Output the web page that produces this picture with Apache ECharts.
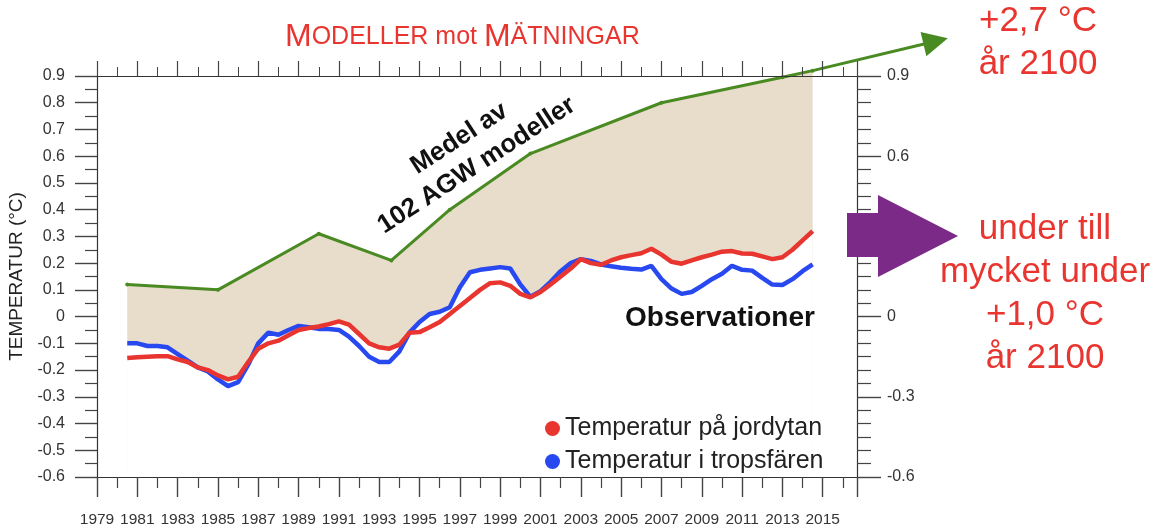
<!DOCTYPE html>
<html>
<head>
<meta charset="utf-8">
<script src="https://cdn.jsdelivr.net/npm/echarts@6/dist/echarts.min.js"></script>
<style>
html, body { margin: 0; padding: 0; background: #fff; }
#chart { width: 1156px; height: 524px; }
</style>
</head>
<body>
<div id="chart"></div>
<script>
// halvårsvärden
var obsYears = [1980.5, 1981, 1981.5, 1982, 1982.5, 1983, 1983.5, 1984, 1984.5, 1985,
    1985.5, 1986, 1986.5, 1987, 1987.5, 1988, 1988.5, 1989, 1989.5, 1990,
    1990.5, 1991, 1991.5, 1992, 1992.5, 1993, 1993.5, 1994, 1994.5, 1995,
    1995.5, 1996, 1996.5, 1997, 1997.5, 1998, 1998.5, 1999, 1999.5, 2000,
    2000.5, 2001, 2001.5, 2002, 2002.5, 2003, 2003.5, 2004, 2004.5, 2005,
    2005.5, 2006, 2006.5, 2007, 2007.5, 2008, 2008.5, 2009, 2009.5, 2010,
    2010.5, 2011, 2011.5, 2012, 2012.5, 2013, 2013.5, 2014, 2014.5];

// Temperatur på jordytan (röd)
var surface = [-0.155, -0.152, -0.15, -0.148, -0.148, -0.16, -0.17, -0.19, -0.2, -0.22,
    -0.235, -0.225, -0.17, -0.12, -0.1, -0.09, -0.07, -0.05, -0.043, -0.037,
    -0.028, -0.018, -0.03, -0.065, -0.1, -0.115, -0.12, -0.105, -0.06, -0.058,
    -0.04, -0.02, 0.01, 0.04, 0.07, 0.10, 0.125, 0.128, 0.115, 0.085,
    0.072, 0.092, 0.12, 0.15, 0.18, 0.215, 0.2, 0.194, 0.21, 0.222,
    0.23, 0.237, 0.254, 0.232, 0.205, 0.198, 0.21, 0.222, 0.232, 0.243,
    0.245, 0.236, 0.235, 0.225, 0.215, 0.222, 0.25, 0.285, 0.32];

// Temperatur i tropsfären (blå)
var tropo = [-0.10, -0.10, -0.11, -0.11, -0.115, -0.14, -0.165, -0.19, -0.205, -0.235,
    -0.26, -0.245, -0.18, -0.10, -0.06, -0.068, -0.05, -0.035, -0.04, -0.046,
    -0.046, -0.05, -0.075, -0.11, -0.15, -0.17, -0.17, -0.13, -0.06, -0.02,
    0.01, 0.018, 0.035, 0.11, 0.166, 0.175, 0.18, 0.185, 0.18, 0.12,
    0.074, 0.095, 0.13, 0.17, 0.2, 0.215, 0.208, 0.195, 0.188, 0.183,
    0.179, 0.176, 0.19, 0.14, 0.105, 0.085, 0.092, 0.115, 0.14, 0.16,
    0.19, 0.175, 0.172, 0.145, 0.12, 0.118, 0.14, 0.17, 0.195];

// Medel av 102 AGW modeller (grön)
var modelYears = [1980.5, 1985, 1990, 1993.6, 1996.5, 2000.5, 2007, 2013, 2014.5];
var modelValues = [0.12, 0.10, 0.31, 0.21, 0.40, 0.61, 0.80, 0.895, 0.92];

// fortsättningen mot 2100 (pilen)
var trendYears = [2014.5, 2020.6];
var trendValues = [0.92, 1.03];

var red = '#e8352f';
var blue = '#2848f0';
var green = '#4a8a22';
var tan = '#e8dccb';
var font = 'Liberation Sans, Arial, sans-serif';

function pairs(xs, ys) {
    let out = [];
    for (let i = 0; i < xs.length; i++) {
        out.push([xs[i], ys[i]]);
    }
    return out;
}

var myChart = echarts.init(document.getElementById('chart'));

var xTicks = {
    type: 'value',
    min: 1979,
    max: 2016.7,
    interval: 2,
    z: 5,
    splitLine: {show: false},
    axisLine: {onZero: false, lineStyle: {color: '#333', width: 1.2}},
    axisTick: {length: 20, lineStyle: {color: '#444', width: 1.4}},
    minorTick: {show: true, splitNumber: 2, length: 11, lineStyle: {color: '#444', width: 1.2}}
};

var option = {
    animation: false,
    textStyle: {fontFamily: font},
    title: {
        left: 280,
        top: 16,
        text: '{b|M}{s|ODELLER mot }{b|M}{s|ÄTNINGAR}',
        textStyle: {
            color: red,
            fontWeight: 'normal',
            rich: {
                b: {fontSize: 32, color: red, fontFamily: font},
                s: {fontSize: 25, color: red, fontFamily: font}
            }
        }
    },
    grid: {left: 97, right: 299, top: 76, bottom: 47, outerBoundsMode: 'none'},
    legend: {
        data: ['Temperatur på jordytan', 'Temperatur i tropsfären'],
        orient: 'vertical',
        left: 540,
        top: 411,
        icon: 'circle',
        itemWidth: 15,
        itemHeight: 15,
        itemGap: 8,
        z: 20,
        textStyle: {fontSize: 25, color: '#222', fontFamily: font}
    },
    xAxis: [
        Object.assign({}, xTicks, {
            position: 'bottom',
            axisLabel: {
                showMaxLabel: false,
                margin: 35,
                fontSize: 15.5,
                color: '#333',
                formatter: function (v) { return String(v); }
            }
        }),
        Object.assign({}, xTicks, {
            position: 'top',
            axisTick: {length: 15, lineStyle: {color: '#444', width: 1.2}},
            minorTick: {show: true, splitNumber: 2, length: 9, lineStyle: {color: '#444', width: 1}},
            axisLabel: {show: false}
        })
    ],
    yAxis: [
        {
            type: 'value',
            position: 'left',
            min: -0.6,
            max: 0.9,
            interval: 0.1,
            z: 5,
            name: 'TEMPERATUR (°C)',
            nameLocation: 'middle',
            nameGap: 66,
            nameTextStyle: {fontSize: 19, color: '#222'},
            splitLine: {show: false},
            axisLine: {show: true, onZero: false, lineStyle: {color: '#333', width: 1.2}},
            axisTick: {length: 22, lineStyle: {color: '#444', width: 1.4}},
            minorTick: {show: true, splitNumber: 2, length: 12, lineStyle: {color: '#444', width: 1.2}},
            axisLabel: {margin: 32, fontSize: 16, color: '#333'}
        },
        {
            type: 'value',
            position: 'right',
            min: -0.6,
            max: 0.9,
            interval: 0.3,
            z: 5,
            splitLine: {show: false},
            axisLine: {show: true, onZero: false, lineStyle: {color: '#333', width: 1.2}},
            axisTick: {length: 24, lineStyle: {color: '#444', width: 1.4}},
            minorTick: {show: true, splitNumber: 6, length: 14, lineStyle: {color: '#444', width: 1.2}},
            axisLabel: {margin: 30, fontSize: 16, color: '#333'}
        }
    ],
    series: [
        {
            name: 'Medel av 102 AGW modeller',
            type: 'line',
            data: pairs(modelYears, modelValues),
            clip: false,
            symbol: 'circle',
            symbolSize: 4,
            itemStyle: {color: green},
            lineStyle: {color: green, width: 3},
            areaStyle: {color: tan, opacity: 1, origin: 'start'},
            z: 2
        },
        {
            name: 'trend',
            type: 'lines',
            coordinateSystem: 'cartesian2d',
            clip: false,
            symbol: ['none', 'triangle'],
            symbolSize: 25,
            lineStyle: {color: green, width: 3, opacity: 1},
            data: [{coords: pairs(trendYears, trendValues)}],
            z: 3
        },
        {
            name: 'fyll jordytan',
            type: 'line',
            data: pairs(obsYears, surface),
            symbol: 'none',
            lineStyle: {width: 0, opacity: 0},
            areaStyle: {color: '#fff', opacity: 1, origin: 'start'},
            silent: true,
            z: 2
        },
        {
            name: 'fyll tropsfären',
            type: 'line',
            data: pairs(obsYears, tropo),
            symbol: 'none',
            lineStyle: {width: 0, opacity: 0},
            areaStyle: {color: '#fff', opacity: 1, origin: 'start'},
            silent: true,
            z: 2
        },
        {
            name: 'Temperatur i tropsfären',
            type: 'line',
            data: pairs(obsYears, tropo),
            symbol: 'none',
            color: blue,
            lineStyle: {color: blue, width: 4.5},
            z: 3
        },
        {
            name: 'Temperatur på jordytan',
            type: 'line',
            data: pairs(obsYears, surface),
            symbol: 'none',
            color: red,
            lineStyle: {color: red, width: 4.5},
            z: 3
        }
    ],
    graphic: [
        {
            type: 'polygon',
            z: 100,
            shape: {points: [[847, 213], [878, 213], [878, 195], [958, 236], [878, 277], [878, 257], [847, 257]]},
            style: {fill: '#7b2a88'}
        },
        {
            type: 'text',
            z: 100,
            x: 1038,
            y: 0,
            style: {
                text: '+2,7 °C\når 2100',
                fontSize: 35,
                fontFamily: font,
                lineHeight: 43,
                fill: red,
                align: 'center',
                verticalAlign: 'top'
            }
        },
        {
            type: 'text',
            z: 100,
            x: 1045,
            y: 208,
            style: {
                text: 'under till\nmycket under\n+1,0 °C\når 2100',
                fontSize: 35,
                fontFamily: font,
                lineHeight: 43,
                fill: red,
                align: 'center',
                verticalAlign: 'top'
            }
        },
        {
            type: 'text',
            z: 100,
            x: 468,
            y: 152,
            rotation: 33 * Math.PI / 180,
            style: {
                text: 'Medel av\n102 AGW modeller',
                fontSize: 26,
                fontWeight: 'bold',
                fontFamily: font,
                lineHeight: 32,
                fill: '#111',
                align: 'center',
                verticalAlign: 'middle'
            }
        },
        {
            type: 'text',
            z: 100,
            x: 720,
            y: 318,
            style: {
                text: 'Observationer',
                fontSize: 28,
                fontWeight: 'bold',
                fontFamily: font,
                fill: '#111',
                align: 'center',
                verticalAlign: 'middle'
            }
        }
    ]
};

myChart.setOption(option);
</script>
</body>
</html>
